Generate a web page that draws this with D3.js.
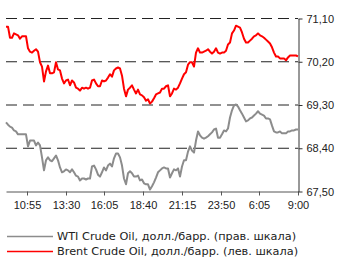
<!DOCTYPE html>
<html>
<head>
<meta charset="utf-8">
<script src="https://cdn.jsdelivr.net/npm/d3@7"></script>
<style>
  html, body { margin: 0; padding: 0; background: #fff; }
  svg { display: block; font-family: "DejaVu Sans", sans-serif; }
</style>
</head>
<body>
<div id="chart"></div>
<script>
// tick labels of the time axis and where they sit (in sample units)
var timeLabels = ["10:55", "13:30", "16:05", "18:40", "21:15", "23:50", "6:05", "9:00"];
var timeTickIdx = [10.5, 30, 49, 68.5, 88, 107.5, 126.5, 146];

var rightTicks = [67.5, 68.4, 69.3, 70.2, 71.1];

// Brent (left scale, not labelled) and WTI (right scale)
var brent = [70.93, 70.93, 70.70, 70.70, 70.79, 70.77, 70.75, 70.68, 70.73, 70.73,
  70.73, 70.48, 70.41, 70.39, 70.43, 70.46, 70.41, 70.19, 70.10, 69.79,
  70.00, 70.12, 69.96, 69.96, 69.98, 70.19, 70.04, 70.02, 69.85, 69.75,
  69.81, 69.83, 69.71, 69.81, 69.77, 69.66, 69.64, 69.60, 69.66, 69.64,
  69.66, 69.64, 69.66, 69.81, 69.83, 69.75, 69.69, 69.69, 69.81, 69.79,
  69.81, 69.87, 69.94, 69.89, 70.02, 70.06, 70.08, 70.06, 69.91, 69.64,
  69.48, 69.62, 69.66, 69.71, 69.62, 69.54, 69.62, 69.52, 69.50, 69.46,
  69.39, 69.42, 69.33, 69.37, 69.44, 69.52, 69.54, 69.56, 69.64, 69.64,
  69.69, 69.71, 69.48, 69.54, 69.64, 69.62, 69.66, 69.75, 69.85, 69.94,
  69.98, 70.14, 70.19, 70.19, 70.10, 70.39, 70.48, 70.39, 70.39, 70.41,
  70.43, 70.46, 70.41, 70.37, 70.41, 70.48, 70.39, 70.37, 70.39, 70.39,
  70.43, 70.56, 70.60, 70.79, 70.85, 70.95, 70.93, 70.91, 70.81, 70.68,
  70.60, 70.60, 70.64, 70.68, 70.73, 70.75, 70.79, 70.75, 70.73, 70.70,
  70.66, 70.62, 70.58, 70.50, 70.39, 70.31, 70.31, 70.27, 70.27, 70.27,
  70.23, 70.29, 70.33, 70.33, 70.33, 70.33, 70.31];

var wti = [68.94, 68.89, 68.85, 68.83, 68.77, 68.75, 68.69, 68.69, 68.69, 68.69,
  68.69, 68.44, 68.56, 68.56, 68.56, 68.46, 68.52, 68.46, 68.21, 67.94,
  68.15, 68.21, 68.15, 68.13, 68.19, 68.25, 68.15, 68.00, 67.90, 67.92,
  67.96, 67.94, 67.90, 67.96, 67.90, 67.83, 67.81, 67.73, 67.77, 67.77,
  67.75, 67.77, 67.77, 68.02, 68.04, 67.96, 67.85, 67.81, 67.90, 68.00,
  67.94, 68.04, 68.08, 68.02, 68.19, 68.29, 68.29, 68.21, 68.04, 67.77,
  67.65, 67.88, 67.92, 67.88, 67.81, 67.81, 67.83, 67.73, 67.75, 67.67,
  67.65, 67.65, 67.54, 67.61, 67.69, 67.79, 67.90, 67.94, 67.98, 68.00,
  67.98, 67.98, 67.79, 67.88, 67.96, 67.94, 67.98, 67.81, 68.02, 68.15,
  68.15, 68.33, 68.44, 68.35, 68.31, 68.56, 68.75, 68.67, 68.62, 68.60,
  68.62, 68.65, 68.69, 68.73, 68.79, 68.81, 68.62, 68.62, 68.69, 68.77,
  68.75, 68.81, 69.04, 69.19, 69.29, 69.31, 69.27, 69.19, 69.12, 69.04,
  68.96, 68.98, 69.02, 69.04, 69.08, 69.12, 69.17, 69.12, 69.10, 69.08,
  69.02, 69.02, 69.00, 68.87, 68.75, 68.73, 68.73, 68.75, 68.71, 68.71,
  68.71, 68.75, 68.75, 68.77, 68.77, 68.79, 68.79];

var legendNames = ["WTI Crude Oil, долл./барр. (прав. шкала)",
                   "Brent Crude Oil, долл./барр. (лев. шкала)"];
var legendColors = ["#8c8c8c", "#ff0000"];

var W = 343, H = 258;
var X0 = 6, X1 = 298, Y0 = 18.5, Y1 = 191.5;

var svg = d3.select("#chart").append("svg")
  .attr("width", W)
  .attr("height", H);

var n = brent.length;
var x = d3.scaleLinear().domain([0, n - 1]).range([X0, X1]);
var yRight = d3.scaleLinear().domain([67.5, 71.1]).range([Y1, Y0]);
// left scale is not labelled in the picture, keep it on the same grid
var yLeft = d3.scaleLinear().domain([67.5, 71.1]).range([Y1, Y0]);

var ru = d3.formatLocale({decimal: ",", thousands: " ", grouping: [3], currency: ["", ""]});
var fmt = ru.format(".2f");

// dashed grid
svg.append("g")
  .selectAll("line")
  .data(rightTicks.slice(1))
  .enter().append("line")
  .attr("x1", X0).attr("x2", X1)
  .attr("y1", function(d){ return yRight(d); })
  .attr("y2", function(d){ return yRight(d); })
  .attr("stroke", "#222")
  .attr("stroke-width", 1)
  .attr("stroke-dasharray", "11,6");

// bottom axis
var xAxis = d3.axisBottom(x)
  .tickValues(timeTickIdx)
  .tickFormat(function(d, i){ return timeLabels[i]; })
  .tickSize(4)
  .tickSizeOuter(0);
var gx = svg.append("g").attr("transform", "translate(0," + Y1 + ")").call(xAxis);
gx.select(".domain").attr("stroke", "#555");
gx.selectAll(".tick line").attr("stroke", "#555");
gx.selectAll("text").attr("font-size", 11).attr("fill", "#222").attr("dy", "0.95em");

// right axis
var yAxis = d3.axisRight(yRight)
  .tickValues(rightTicks)
  .tickFormat(fmt)
  .tickSize(4)
  .tickSizeOuter(0);
var gy = svg.append("g").attr("transform", "translate(" + (X1 + 0.5) + ",0)").call(yAxis);
gy.select(".domain").attr("stroke", "#333");
gy.selectAll(".tick line").attr("stroke", "#333");
gy.selectAll("text").attr("font-size", 11).attr("fill", "#222").attr("x", 8);

// series
var lineW = d3.line().x(function(d, i){ return x(i); }).y(function(d){ return yRight(d); });
var lineB = d3.line().x(function(d, i){ return x(i); }).y(function(d){ return yLeft(d); });

svg.append("path").datum(wti)
  .attr("d", lineW)
  .attr("fill", "none")
  .attr("stroke", legendColors[0])
  .attr("stroke-width", 2)
  .attr("stroke-linejoin", "round");

svg.append("path").datum(brent)
  .attr("d", lineB)
  .attr("fill", "none")
  .attr("stroke", legendColors[1])
  .attr("stroke-width", 2)
  .attr("stroke-linejoin", "round");

// legend
var lg = svg.append("g").selectAll("g")
  .data(legendNames)
  .enter().append("g")
  .attr("transform", function(d, i){ return "translate(0," + (236 + i * 15) + ")"; });

lg.append("line")
  .attr("x1", 7).attr("x2", 53)
  .attr("y1", 0.5).attr("y2", 0.5)
  .attr("stroke", function(d, i){ return legendColors[i]; })
  .attr("stroke-width", 1.5);

lg.append("text")
  .attr("x", 57)
  .attr("y", 0)
  .attr("dy", "0.35em")
  .attr("font-size", 11.3)
  .attr("fill", "#222")
  .text(function(d){ return d; });
</script>
</body>
</html>
